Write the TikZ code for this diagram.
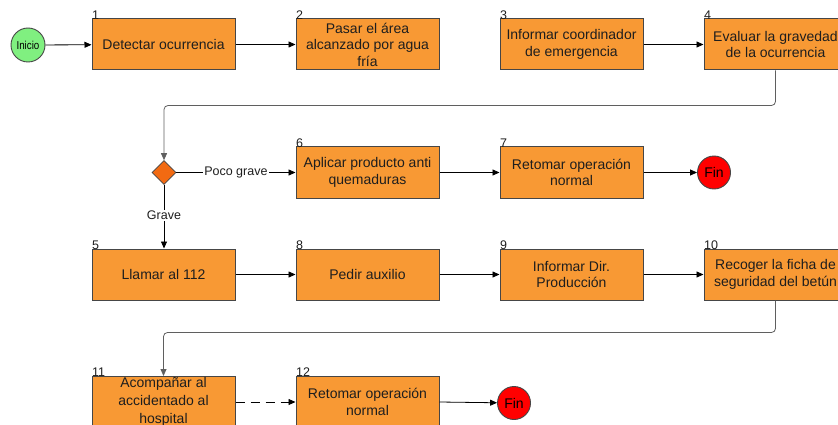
\documentclass[tikz,border=0pt]{standalone}
\usepackage{fontspec}
\setmainfont{Liberation Sans}
\usetikzlibrary{arrows.meta,shapes.geometric}

\definecolor{boxfill}{RGB}{248,153,52}
\definecolor{boxline}{RGB}{70,70,70}
\definecolor{decfill}{RGB}{242,106,18}
\definecolor{startfill}{RGB}{128,240,128}
\definecolor{endfill}{RGB}{255,0,0}
\definecolor{txt}{RGB}{30,30,30}
\definecolor{loopgray}{RGB}{95,95,95}

\tikzset{
  stepbox/.style={draw=boxline, fill=boxfill, line width=1pt,
    minimum width=143pt, minimum height=51pt, inner sep=0pt,
    align=center, text=txt, font=\fontsize{14}{16.5}\selectfont},
  numlabel/.style={anchor=south west, inner sep=0pt, xshift=0.5pt, yshift=-1pt,
    text=txt, font=\fontsize{12.5}{12.5}\selectfont},
  terminal/.style={circle, draw=boxline, line width=0.9pt, minimum size=33pt,
    inner sep=0pt, text=black},
  decision/.style={diamond, draw=boxline, fill=decfill, line width=0.6pt,
    minimum width=24pt, minimum height=24pt, inner sep=0pt},
  flow/.style={draw=black, line width=0.8pt, -{Triangle[length=7pt,width=6pt]}},
  loopline/.style={flow, draw=loopgray, rounded corners=4pt},
  edgetext/.style={fill=white, inner sep=1pt, text=txt,
    font=\fontsize{12.5}{13}\selectfont}
}

\begin{document}
\begin{tikzpicture}[x=1pt,y=-1pt]
\useasboundingbox (0,0) rectangle (838,425);

% start and first row
\node[terminal, fill=startfill, minimum size=34pt,
      font=\fontsize{11.5}{12}\selectfont] (inicio) at (28,45) {\scalebox{0.85}[1]{Inicio}};
\node[stepbox] (b1) at (163.5,44.5) {Detectar ocurrencia};
\node[stepbox] (b2) at (367.5,44.5) {Pasar el área\\alcanzado por agua\\fría};
\node[stepbox] (b3) at (571.5,44.5) {Informar coordinador\\de emergencia};
\node[stepbox] (b4) at (775.5,44.5) {Evaluar la gravedad\\de la ocurrencia};

% decision row
\node[decision] (dec) at (164,172.5) {};
\node[stepbox] (b6) at (367.5,172.5) {Aplicar producto anti\\quemaduras};
\node[stepbox] (b7) at (571.5,172.5) {Retomar operación\\normal};
\node[terminal, fill=endfill, font=\fontsize{14}{14}\selectfont] (fin1) at (714,172.5) {Fin};

% serious case row
\node[stepbox] (b5) at (163.5,274.5) {Llamar al 112};
\node[stepbox] (b8) at (367.5,274.5) {Pedir auxilio};
\node[stepbox] (b9) at (571.5,274.5) {Informar Dir.\\Producción};
\node[stepbox] (b10) at (775.5,274.5) {Recoger la ficha de\\seguridad del betún};

% last row
\node[stepbox, font=\fontsize{14}{18}\selectfont] (b11) at (163.5,402) {Acompañar al\\accidentado al\\hospital};
\node[stepbox] (b12) at (367.5,402) {Retomar operación\\normal};
\node[terminal, fill=endfill, font=\fontsize{14}{14}\selectfont] (fin2) at (514,403) {Fin};

% step numbers
\node[numlabel] (n1) at (b1.north west) {1};
\node[numlabel] (n2) at (b2.north west) {2};
\node[numlabel] (n3) at (b3.north west) {3};
\node[numlabel] (n4) at (b4.north west) {4};
\node[numlabel] (n5) at (b5.north west) {5};
\node[numlabel] (n6) at (b6.north west) {6};
\node[numlabel] (n7) at (b7.north west) {7};
\node[numlabel] (n8) at (b8.north west) {8};
\node[numlabel] (n9) at (b9.north west) {9};
\node[numlabel] (n10) at (b10.north west) {10};
\node[numlabel] (n11) at (b11.north west) {11};
\node[numlabel] (n12) at (b12.north west) {12};

% connectors
\draw[flow] (inicio) -- (b1);
\draw[flow] (b1) -- (b2);
\draw[flow] (b3) -- (b4);
\draw[loopline] (b4.south) -- ++(0,35) -| (dec.north);
\draw[flow] (dec.east) -- node[edgetext] (lpoco) {Poco grave} (b6.west);
\draw[flow] (b6) -- (b7);
\draw[flow] (b7) -- (fin1);
\draw[flow] (dec.south) -- node[edgetext, pos=0.48] (lgrave) {Grave} (b5.north -| dec.south);
\draw[flow] (b5) -- (b8);
\draw[flow] (b8) -- (b9);
\draw[flow] (b9) -- (b10);
\draw[loopline] (b10.south) -- ++(0,32) -| (b11.north);
\draw[flow, dashed, dash pattern=on 9pt off 6pt] (b11) -- (b12);
\draw[flow] (b12.east) -- (fin2);

\end{tikzpicture}
\end{document}
